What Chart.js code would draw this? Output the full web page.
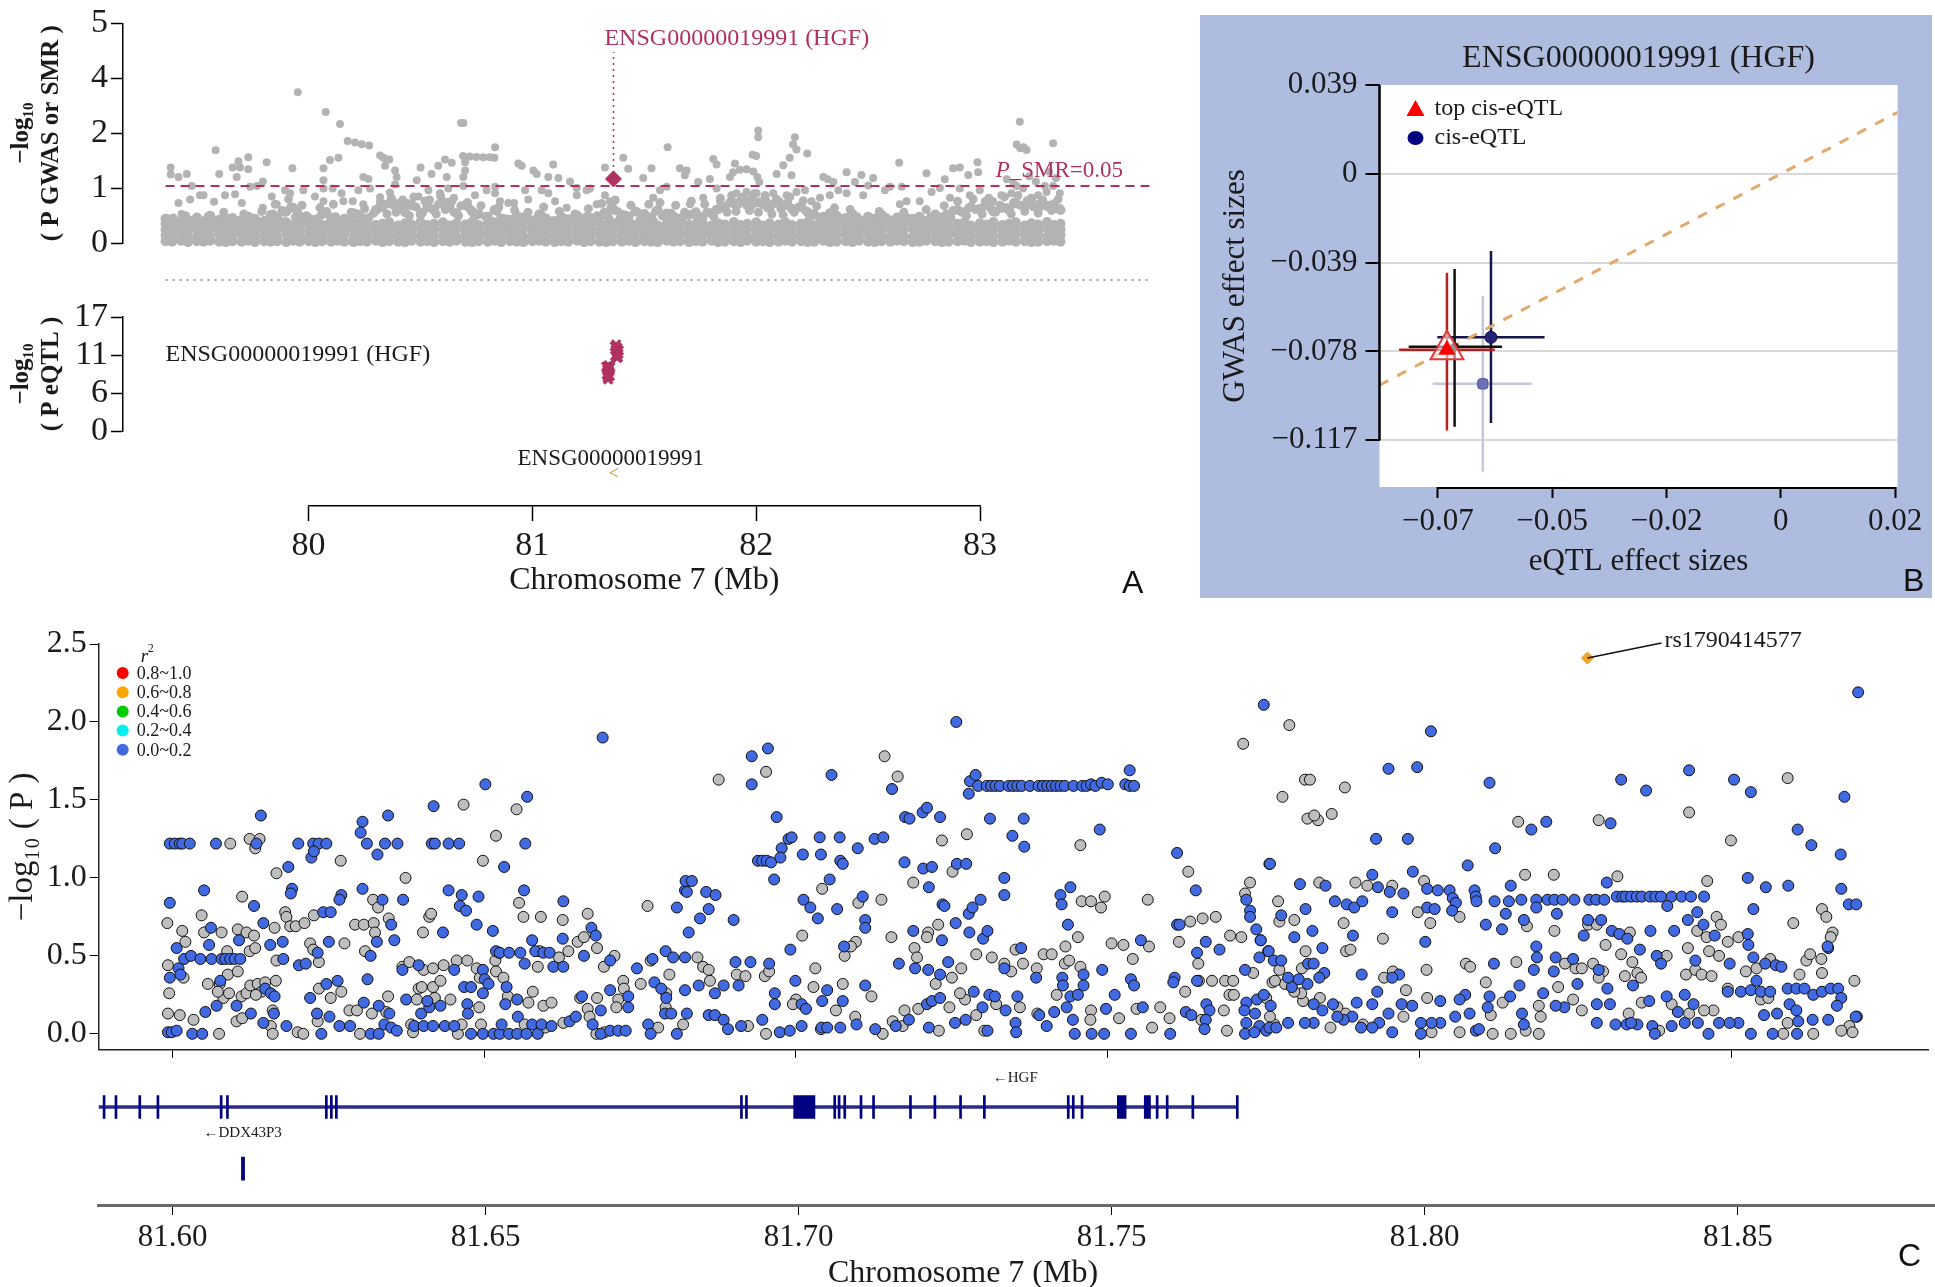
<!DOCTYPE html>
<html>
<head>
<meta charset="utf-8">
<title>SMR locus plot - HGF</title>
<script src="https://cdn.jsdelivr.net/npm/chart.js@4.4.1/dist/chart.umd.min.js"></script>
<style>
  html, body { margin: 0; padding: 0; background: #fff; }
  #page { position: relative; width: 1935px; height: 1287px; overflow: hidden; font-family: 'Liberation Serif', serif; }
  canvas { position: absolute; }
  .tag { position: absolute; font-family: 'Liberation Sans', Arial, sans-serif; font-size: 32px; line-height: 36px; color: #111; }
  #bgB { position: absolute; left: 1200px; top: 15px; width: 732px; height: 583px; background: #aebcdf; }
  #titleC { position: absolute; left: 763px; top: 1253px; width: 400px; text-align: center; font-size: 32px; line-height: 36px; color: #1a1a1a; }
</style>
</head>
<body>
<div id="page">
  <div id="bgB"></div>
  <canvas id="chartA1" width="1160" height="300" style="left:0;top:0"></canvas>
  <canvas id="chartA2" width="1160" height="200" style="left:0;top:290px"></canvas>
  <canvas id="chartA3" width="1160" height="160" style="left:0;top:440px"></canvas>
  <canvas id="chartB" width="732" height="583" style="left:1200px;top:15px"></canvas>
  <canvas id="chartC1" width="1935" height="452" style="left:0;top:620px"></canvas>
  <canvas id="chartC2" width="1935" height="227" style="left:0;top:1060px"></canvas>
  <div class="tag" style="left:1122px;top:564px">A</div>
  <div class="tag" style="left:1903px;top:562px">B</div>
  <div class="tag" style="left:1898px;top:1237px">C</div>
  <div id="titleC">Chromosome 7 (Mb)</div>
</div>
<script>
// ---------- panel A : SMR locus ----------
var gwasTickVals = [0, 1.25, 2.5, 3.75, 5];
var gwasTickLabels = ['0', '1', '2', '4', '5'];
var eqtlTickVals = [0, 17 / 3, 34 / 3, 17];
var eqtlTickLabels = ['0', '6', '11', '17'];
var smrThreshold = 1.30;          // -log10(0.05)
var probeName = 'ENSG00000019991 (HGF)';
var probePos = 81.362;
var probeSmr = 1.46;
var probeLabelY = 4.35;
var geneName = 'ENSG00000019991';
var geneSpan = [81.328, 81.400];

// dense GWAS cloud, one value per row per column
var bandPos = [
  79.36,79.39,79.43,79.46,79.50,79.53,79.56,79.60,79.63,79.66,
  79.70,79.73,79.76,79.80,79.83,79.86,79.90,79.93,79.96,80.00,
  80.03,80.06,80.10,80.13,80.16,80.20,80.23,80.26,80.30,80.33,
  80.36,80.40,80.43,80.46,80.50,80.53,80.56,80.60,80.63,80.66,
  80.70,80.73,80.76,80.80,80.83,80.86,80.90,80.93,80.96,81.00,
  81.03,81.06,81.10,81.13,81.16,81.20,81.23,81.26,81.30,81.33,
  81.36,81.40,81.43,81.46,81.50,81.53,81.56,81.60,81.63,81.66,
  81.70,81.73,81.76,81.80,81.83,81.86,81.90,81.93,81.96,82.00,
  82.03,82.06,82.10,82.13,82.16,82.20,82.23,82.26,82.30,82.33,
  82.36,82.40,82.43,82.46,82.50,82.53,82.56,82.60,82.63,82.66,
  82.70,82.73,82.76,82.80,82.83,82.86,82.90,82.93,82.96,83.00,
  83.03,83.06,83.10,83.13,83.16,83.20,83.23,83.26,83.30,83.33,
  83.36];
var bandLow = [
  .04,.03,.05,.02,.04,.03,.05,.03,.02,.04, .03,.05,.02,.04,.03,.04,.02,.05,.03,.04,
  .02,.04,.03,.05,.03,.02,.04,.03,.05,.02, .04,.03,.02,.05,.03,.04,.02,.04,.03,.05,
  .03,.02,.04,.03,.05,.02,.04,.03,.02,.04, .05,.03,.02,.04,.03,.05,.02,.04,.03,.02,
  .04,.03,.05,.02,.04,.03,.02,.05,.03,.04, .02,.04,.03,.05,.02,.03,.04,.02,.05,.03,
  .04,.02,.03,.05,.03,.04,.02,.03,.05,.02, .03,.04,.02,.05,.03,.02,.04,.03,.05,.04,
  .02,.03,.05,.04,.02,.03,.04,.05,.02,.03, .04,.02,.03,.05,.03,.04,.02,.03,.04,.05, .03];
var bandMid = [
  .17,.15,.19,.16,.14,.18,.16,.20,.15,.17, .19,.16,.14,.18,.17,.15,.20,.16,.18,.14,
  .17,.19,.15,.16,.20,.14,.18,.17,.15,.19, .16,.18,.20,.15,.17,.19,.16,.18,.20,.15,
  .18,.16,.14,.19,.17,.15,.18,.20,.16,.14, .19,.17,.15,.18,.16,.20,.14,.17,.19,.15,
  .18,.16,.20,.15,.17,.19,.14,.18,.16,.20, .15,.17,.19,.16,.18,.14,.20,.17,.15,.19,
  .16,.18,.15,.20,.17,.14,.19,.16,.18,.15, .17,.19,.14,.16,.20,.18,.15,.17,.19,.16,
  .14,.18,.16,.19,.15,.17,.20,.16,.18,.14, .19,.16,.18,.15,.17,.20,.16,.19,.15,.17, .18];
var bandMid2 = [
  .30,.28,.32,.27,.31,.29,.33,.28,.30,.32, .27,.31,.29,.33,.28,.30,.32,.27,.31,.29,
  .33,.28,.30,.32,.27,.31,.29,.33,.28,.30, .32,.27,.31,.29,.33,.28,.30,.32,.27,.31,
  .29,.33,.28,.30,.32,.27,.31,.29,.33,.28, .30,.32,.27,.31,.29,.33,.28,.30,.32,.27,
  .31,.29,.33,.28,.30,.32,.27,.31,.29,.33, .28,.30,.32,.27,.31,.29,.33,.28,.30,.32,
  .27,.31,.29,.33,.28,.30,.32,.27,.31,.29, .33,.28,.30,.32,.27,.31,.29,.33,.28,.30,
  .32,.27,.31,.29,.33,.28,.30,.32,.27,.31, .29,.33,.28,.30,.32,.27,.31,.29,.33,.28, .30];
var bandMid3 = [
  .44,.41,.47,.40,.45,.42,.48,.41,.43,.46, .40,.45,.42,.48,.41,.44,.47,.40,.46,.43,
  .48,.41,.44,.47,.40,.45,.42,.48,.41,.44, .47,.40,.45,.42,.48,.41,.44,.47,.40,.45,
  .42,.48,.41,.44,.47,.40,.45,.42,.48,.41, .44,.47,.40,.45,.42,.48,.41,.44,.47,.40,
  .45,.42,.48,.41,.44,.47,.40,.45,.42,.48, .41,.44,.47,.40,.45,.42,.48,.41,.44,.47,
  .40,.45,.42,.48,.41,.44,.47,.40,.45,.42, .48,.41,.44,.47,.40,.45,.42,.48,.41,.44,
  .47,.40,.45,.42,.48,.41,.44,.47,.40,.45, .42,.48,.41,.44,.47,.40,.45,.42,.48,.41, .44];
var bandTop = [
  .55,.48,.52,.50,.58,.49,.62,.53,.50,.57, .52,.60,.55,.50,.64,.58,.72,.80,.61,.56,
  .53,.65,.58,.50,.55,.68,.60,.54,.75,.82, .90,.78,.70,.86,.65,.82,.75,.92,.80,.68,
  .86,.72,.66,.60,.75,.56,.53,.62,.58,.51, .65,.56,.50,.59,.54,.62,.49,.57,.53,.68,
  .78,.64,.60,.72,.66,.58,.75,.67,.61,.56, .64,.70,.59,.68,.77,.82,.90,.95,.86,.92,
  .88,.80,.94,.86,.78,.82,.70,.65,.60,.68, .62,.57,.66,.53,.60,.56,.64,.51,.58,.62,
  .55,.60,.50,.65,.58,.62,.75,.70,.82,.78, .86,.72,.80,.75,.90,.82,.95,.78,.84,.88, .75];
var gwasUpper = [
  [79.37,.55],[79.41,.48],[79.45,.62],[79.52,.50],[79.58,.47],[79.64,.56],[79.69,.52],[79.74,.58],[79.78,.48],[79.84,.66],
  [79.88,.74],[79.92,.82],[79.95,.70],[79.99,.62],[80.04,.55],[80.08,.72],[80.12,.60],[80.18,.52],[80.22,.66],[80.27,.58],
  [80.31,.78],[80.34,.88],[80.38,.85],[80.41,.76],[80.44,.90],[80.48,.82],[80.52,.95],[80.55,.78],[80.58,.88],[80.62,.92],
  [80.65,.70],[80.68,.85],[80.72,.78],[80.75,.66],[80.79,.60],[80.84,.72],[80.88,.55],[80.94,.60],[80.99,.52],[81.04,.64],
  [81.08,.50],[81.14,.56],[81.18,.48],[81.24,.60],[81.28,.52],[81.32,.70],[81.35,.80],[81.38,.72],[81.42,.62],[81.47,.70],
  [81.51,.60],[81.55,.72],[81.58,.62],[81.62,.68],[81.67,.55],[81.72,.66],[81.75,.58],[81.78,.70],[81.82,.76],[81.85,.84],
  [81.88,.92],[81.92,.88],[81.95,.96],[81.98,.86],[82.02,.94],[82.05,.80],[82.08,.90],[82.11,.78],[82.14,.92],[82.19,.82],
  [82.22,.74],[82.25,.66],[82.28,.58],[82.34,.62],[82.38,.55],[82.45,.60],[82.52,.52],[82.58,.58],[82.62,.50],[82.68,.56],
  [82.74,.52],[82.78,.60],[82.85,.66],[82.88,.74],[82.92,.70],[82.95,.80],[82.98,.76],[83.02,.84],[83.05,.78],[83.09,.86],
  [83.12,.80],[83.15,.92],[83.18,.86],[83.21,.96],[83.24,.82],[83.27,.90],[83.31,.86],[83.35,.78],
  [79.38,.45],[79.42,.38],[79.47,.52],[79.51,.41],[79.55,.60],[79.59,.44],[79.62,.70],[79.67,.46],[79.71,.66],[79.75,.42],
  [79.79,.72],[79.82,.55],[79.85,.88],[79.89,.48],[79.91,1.0],[79.94,.58],[79.97,.86],[80.01,.50],[80.05,.80],[80.09,.45],
  [80.11,.88],[80.15,.50],[80.19,.70],[80.21,.45],[80.25,.78],[80.29,.68],[80.32,.92],[80.35,.66],[80.37,1.02],[80.39,.70],
  [80.42,.98],[80.45,.62],[80.47,1.05],[80.51,.70],[80.54,.98],[80.57,.66],[80.59,1.06],[80.61,.76],[80.64,.95],[80.67,.62],
  [80.71,.92],[80.74,.58],[80.77,.85],[80.81,.50],[80.85,.82],[80.89,.45],[80.92,.75],[80.95,.48],[80.98,.70],[81.02,.55],
  [81.05,.82],[81.09,.42],[81.12,.72],[81.15,.46],[81.19,.66],[81.22,.44],[81.25,.78],[81.29,.62],[81.31,.90],[81.34,.58],
  [81.37,.98],[81.39,.55],[81.44,.86],[81.48,.52],[81.52,.88],[81.54,.50],[81.57,.92],[81.61,.52],[81.64,.86],[81.68,.70],
  [81.71,.95],[81.74,.55],[81.77,.88],[81.81,.60],[81.84,1.02],[81.87,.70],[81.89,1.08],[81.91,.72],[81.94,1.05],[81.97,.74],
  [81.99,1.12],[82.01,.70],[82.04,1.08],[82.07,.66],[82.09,1.0],[82.12,.64],[82.15,1.05],[82.17,.70],[82.21,.96],[82.24,.58],
  [82.27,.84],[82.31,.55],[82.35,.80],[82.39,.50],[82.42,.76],[82.48,.48],[82.55,.72],[82.61,.45],[82.66,.70],[82.71,.48],
  [82.76,.76],[82.81,.50],[82.84,.85],[82.87,.58],[82.90,.95],[82.94,.62],[82.97,1.0],[83.01,.66],[83.04,1.02],[83.07,.70],
  [83.11,1.05],[83.14,.66],[83.17,1.08],[83.20,.72],[83.23,1.02],[83.26,.68],[83.28,.98],[83.32,.74],[83.35,1.0]];
var gwasSparse = [
  [79.951,3.43],[80.076,2.98],[80.140,2.71],[80.174,2.32],[80.207,2.29],[80.237,2.25],[80.270,2.22],[80.681,2.73],[80.691,2.73],
  [79.584,2.11],[80.833,2.18],[80.69,1.98],[80.72,1.97],[80.75,1.96],[80.78,1.95],[80.81,1.95],[80.83,1.94],[80.699,1.84],
  [80.699,1.65],[80.691,1.50],[80.319,1.99],[80.334,1.94],[80.349,1.90],[80.36,1.90],[80.341,1.76],[80.386,1.65],[80.393,1.50],
  [79.383,1.72],[79.383,1.56],[79.418,1.50],[79.455,1.57],[79.686,1.86],[79.693,1.72],[79.678,1.50],[79.66,1.72],[79.73,1.95],
  [79.73,1.68],[79.812,1.84],[79.927,1.70],[79.60,1.57],[80.066,1.70],[80.095,1.89],[80.133,1.94],[80.066,1.43],[80.244,1.50],
  [80.267,1.46],[80.50,1.72],[80.549,1.57],[80.579,1.76],[80.609,1.90],[80.639,1.83],[80.617,1.50],[80.937,1.81],[80.952,1.76],
  [81.004,1.65],[81.019,1.57],[81.071,1.50],[81.093,1.79],[81.116,1.48],[80.833,1.28],[81.324,1.72],[81.406,1.94],[81.168,1.40],
  [81.198,1.25],[81.257,1.24],
  [83.178,2.76],[83.164,2.24],[83.18,2.16],[83.195,2.18],[83.208,2.12],[83.327,2.27],[82.009,2.56],[82.009,2.41],[82.0,1.98],
  [81.984,2.01],[82.173,2.41],[82.165,2.24],[82.18,2.13],[82.15,1.94],[82.228,2.04],[81.604,2.18],[81.808,1.91],[81.823,1.79],
  [81.905,1.81],[81.897,1.61],[81.927,1.67],[81.957,1.68],[81.987,1.63],[82.005,1.50],[82.014,1.39],[81.883,1.50],[82.639,1.83],
  [82.761,1.59],[82.843,1.45],[82.88,1.70],[82.91,1.72],[82.948,1.55],[82.989,1.84],[82.992,1.61],[82.30,1.50],[82.32,1.45],
  [82.345,1.39],[82.404,1.61],[82.47,1.55],[82.523,1.48],[82.091,1.57],[82.121,1.77],[81.495,1.48],[81.532,1.70],[81.659,1.70],
  [81.689,1.65],[81.741,1.39],[83.12,1.45],[83.15,1.35],[83.22,1.52],[83.25,1.40],[83.29,1.30],[83.31,1.62],[83.34,1.48],
  [79.418,.91],[79.470,.99],[79.514,1.09],[79.53,1.09],[79.432,.66],[79.395,.58],[79.477,1.30],[79.577,.94],[79.626,1.09],
  [79.671,1.11],[79.701,.91],[79.738,1.28],[79.768,1.30],[79.795,1.40],[79.795,.80],[79.835,1.06],[79.857,.88],[79.894,1.20],
  [79.917,1.13],[79.894,.69],[79.976,1.20],[80.028,1.06],[80.066,1.24],[80.066,.95],[80.107,1.24],[80.147,1.13],[80.155,.95],
  [80.197,.95],[80.222,1.20],[80.244,.88],[80.274,1.24],[80.319,1.04],[80.363,1.15],[80.386,1.33],[80.393,.91],[80.423,.80],
  [80.483,1.43],[80.490,1.06],[80.535,1.20],[80.587,1.13],[80.624,1.24],[80.649,1.03],[80.691,1.30],[80.743,1.09],[80.795,1.20],
  [80.833,1.13],[80.855,.95],[80.892,.91],[80.918,.91],[80.967,1.20],[80.981,.99],[81.041,1.20],[81.071,1.13],[81.101,.95],
  [81.153,.80],[81.198,1.09],[81.242,1.20],[81.287,.88],[81.324,1.09],[81.346,.95],[81.369,.73],[81.413,.65],
  [81.428,1.69],[81.570,1.20],[81.540,1.03],[81.600,1.28],[81.681,1.54],[81.704,.88],[81.763,1.03],[81.793,1.46],[81.823,1.24],
  [81.838,.95],[81.912,1.13],[81.957,1.16],[81.979,1.03],[82.002,1.13],[82.046,.95],[82.076,1.13],[82.136,1.09],[82.158,1.54],
  [82.180,1.16],[82.218,1.20],[82.247,.95],[82.285,1.03],[82.329,1.09],[82.367,1.20],[82.404,1.13],[82.441,1.39],[82.478,1.09],
  [82.501,1.31],[82.575,1.20],[82.598,1.28],[82.650,1.28],[82.672,.95],[82.642,.88],[82.731,.95],[82.784,1.16],[82.821,1.25],
  [82.866,1.03],[82.910,1.24],[82.955,1.09],[82.999,1.20],[83.022,.95],[83.059,.95],[83.096,1.09],[83.141,1.13],[83.163,1.30],
  [83.193,1.24],[83.230,1.03],[83.260,1.09],[83.298,1.16],[83.327,1.30],[83.327,.88],[83.357,1.13],[83.354,.80]];
var eqtlSnps = [
  [81.368,12.6],[81.372,12.1],[81.376,11.8],[81.380,12.4],[81.384,11.5],[81.386,12.0],[81.370,11.2],[81.378,10.9],
  [81.382,11.0],[81.374,12.9],
  [81.330,9.6],[81.334,9.1],[81.338,8.6],[81.342,9.3],[81.346,8.2],[81.336,8.0],[81.340,9.8],[81.332,8.4],[81.344,8.9],
  [81.348,9.5],[81.338,7.7]];

// ---------- panel B : effect sizes ----------
var effTickY = [-0.117, -0.078, -0.039, 0, 0.039];
var effTickYLabels = ['\u22120.117', '\u22120.078', '\u22120.039', '0', '0.039'];
var effTickX = [-0.0717, -0.0478, -0.0239, 0, 0.0239];
var effTickXLabels = ['\u22120.07', '\u22120.05', '\u22120.02', '0', '0.02'];
var bEqtl = [-0.0698, -0.0682, -0.0606, -0.0623];
var bEqtlLow = [-0.0798, -0.0778, -0.0718, -0.0728];
var bEqtlHigh = [-0.0598, -0.0583, -0.0494, -0.0521];
var bGwas = [-0.0772, -0.0759, -0.0718, -0.0922];
var bGwasLow = [-0.1127, -0.1110, -0.1094, -0.1307];
var bGwasHigh = [-0.0434, -0.0418, -0.0339, -0.0536];
var bxy = 1.106;

// ---------- panel C : regional association ----------
var ldLabels = ['0.8~1.0', '0.6~0.8', '0.4~0.6', '0.2~0.4', '0.0~0.2'];
var ldColors = ['#ff0000', '#ffa500', '#00cd00', '#00eeee', '#4169e1'];
var rsSnp = { name: 'rs1790414577', pos: 81.8269, logp: 2.41 };
var blueSnps = [
  [81.5996,1.22],[81.6004,1.22],[81.6012,1.22],[81.6016,1.22],[81.6028,1.22],[81.6070,1.22],[81.6135,1.22],[81.6202,1.22],[81.6226,1.22],[81.6235,1.22],[81.6247,1.22],[81.6223,1.13],[81.6227,1.17],[81.6312,1.22],[81.6341,1.22],[81.6361,1.22],[81.6416,1.22],[81.6421,1.22],[81.6443,1.22],[81.6460,1.22],[81.6566,1.22],[81.6142,1.40],[81.6305,1.36],[81.6302,1.29],[81.6346,1.40],[81.6329,1.15],[81.6186,1.07],[81.6419,1.46],[81.6502,1.60],[81.6569,1.52],[81.6532,1.07],[81.6690,1.90],
  [81.5996,0.84],[81.6051,0.92],[81.6131,0.82],[81.6192,0.93],[81.6190,0.90],[81.6271,0.89],[81.6268,0.86],[81.6305,0.93],[81.6337,0.86],[81.6370,0.86],[81.6007,0.55],[81.6062,0.68],[81.6107,0.60],[81.6059,0.57],[81.6146,0.71],[81.6242,0.78],[81.6254,0.78],[81.6233,0.52],[81.6251,0.59],[81.6157,0.57],[81.6177,0.59],[81.6178,0.48],[81.6203,0.44],[81.6214,0.45],[81.6351,0.70],[81.6328,0.59],[81.6356,0.60],[81.6318,0.50],[81.6488,0.70],[81.6434,0.65],[81.6443,0.92],[81.6464,0.89],[81.6491,0.88],[81.6461,0.82],[81.6471,0.79],[81.6564,0.92],[81.6627,0.85],[81.6672,0.68],[81.6679,0.63],[81.6514,0.66],[81.6577,0.60],[81.6626,0.61],[81.6809,0.81],[81.6822,0.92],[81.6823,0.98],
  [81.6010,0.42],[81.5996,0.36],[81.6013,0.38],[81.6019,0.48],[81.6030,0.50],[81.6045,0.48],[81.6063,0.48],[81.6079,0.48],[81.6085,0.48],[81.6093,0.48],[81.6100,0.48],[81.6109,0.48],[81.6519,0.53],[81.6525,0.52],[81.6540,0.52],[81.6558,0.52],[81.6582,0.53],[81.6595,0.52],[81.6605,0.52],[81.6611,0.43],[81.6627,0.43],[81.6565,0.45],[81.6660,0.50],[81.6702,0.47],[81.6745,0.42],[81.6770,0.48],[81.6791,0.53],[81.6803,0.49],[81.6822,0.49],[81.6369,0.41],[81.6395,0.44],[81.6452,0.41],[81.6498,0.41],[81.6501,0.35],[81.6507,0.32],
  [81.5993,0.01],[81.5999,0.01],[81.6007,0.02],[81.6032,0.00],[81.6048,0.00],[81.6077,0.34],[81.6071,0.18],[81.6053,0.14],[81.6103,0.18],[81.6149,0.29],[81.6158,0.26],[81.6164,0.24],[81.6126,0.13],[81.6146,0.07],[81.6163,0.13],[81.6183,0.05],[81.6221,0.23],[81.6232,0.13],[81.6239,0.00],[81.6247,0.32],[81.6265,0.34],[81.6252,0.11],[81.6268,0.05],[81.6285,0.05],[81.6307,0.20],[81.6318,0.00],[81.6331,0.00],[81.6313,0.35],[81.6331,0.18],[81.6348,0.13],[81.6340,0.06],[81.6351,0.04],[81.6360,0.02],[81.6375,0.22],[81.6399,0.13],[81.6388,0.05],[81.6403,0.05],[81.6418,0.05],[81.6437,0.05],[81.6452,0.05],[81.6412,0.17],[81.6430,0.18],[81.6409,0.21],[81.6468,0.30],[81.6479,0.30],[81.6473,0.19],[81.6474,0.13],[81.6498,0.26],[81.6479,0.00],[81.6498,0.00],[81.6515,0.00],[81.6525,0.00],[81.6540,0.00],[81.6553,0.00],[81.6568,0.00],[81.6586,0.00],[81.6528,0.06],[81.6536,0.30],[81.6534,0.19],[81.6553,0.22],[81.6554,0.11],[81.6577,0.06],[81.6592,0.06],[81.6608,0.05],[81.6637,0.08],[81.6647,0.11],[81.6657,0.24],[81.6674,0.06],[81.6687,0.15],[81.6687,0.00],[81.6702,0.28],[81.6731,0.24],[81.6731,0.17],[81.6702,0.02],[81.6715,0.02],[81.6727,0.02],[81.6763,0.06],[81.6767,0.00],[81.6773,0.33],[81.6784,0.29],[81.6792,0.23],[81.6790,0.13],[81.6800,0.13],[81.6809,0.00],[81.6822,0.28],[81.6825,0.13],
  [81.6929,1.78],[81.6955,1.83],[81.6929,1.60],[81.7057,1.66],[81.7154,1.57],[81.7257,2.00],[81.7750,2.11],
  [81.7279,1.62],[81.7288,1.66],[81.7292,1.59],[81.7306,1.59],[81.7313,1.59],[81.7320,1.59],[81.7327,1.59],[81.7341,1.59],[81.7348,1.59],[81.7355,1.59],[81.7362,1.59],[81.7375,1.59],[81.7389,1.59],[81.7396,1.59],[81.7403,1.59],[81.7410,1.59],[81.7417,1.59],[81.7424,1.59],[81.7431,1.59],[81.7445,1.59],[81.7459,1.59],[81.7466,1.59],[81.7473,1.60],[81.7480,1.59],[81.7490,1.61],[81.7500,1.60],[81.7528,1.60],[81.7535,1.59],[81.7542,1.59],[81.7535,1.69],[81.7277,1.54],
  [81.6969,1.39],[81.7175,1.39],[81.7182,1.38],[81.7203,1.42],[81.7210,1.45],[81.7231,1.39],[81.7311,1.38],[81.7365,1.38],[81.7487,1.31],
  [81.6988,1.25],[81.6993,1.26],[81.6977,1.19],[81.7038,1.26],[81.7070,1.26],[81.7126,1.25],[81.7140,1.26],[81.7099,1.19],[81.7347,1.27],[81.7366,1.20],
  [81.6939,1.11],[81.6946,1.11],[81.6953,1.11],[81.6960,1.10],[81.6975,1.13],[81.6965,0.99],[81.7011,1.15],[81.7040,1.15],[81.7071,1.11],[81.7075,1.09],[81.7054,0.99],[81.7174,1.10],[81.7204,1.06],[81.7218,1.07],[81.7258,1.09],[81.7273,1.09],[81.7213,0.94],[81.7334,1.00],[81.7334,0.89],[81.7440,0.94],[81.7424,0.89],[81.7426,0.83],[81.7611,1.16],[81.7641,0.92],[81.7759,1.09],[81.7722,0.86],[81.7728,0.79],[81.7728,0.75],[81.7738,0.67],[81.7745,0.60],
  [81.6833,0.98],[81.6825,0.91],[81.6856,0.91],[81.6871,0.89],[81.6846,0.74],[81.6860,0.80],[81.6828,0.65],[81.6900,0.73],[81.7012,0.86],[81.7023,0.81],[81.7035,0.74],[81.7066,0.80],[81.7107,0.88],[81.7111,0.73],[81.7111,0.68],[81.7235,0.83],[81.7238,0.82],[81.7277,0.77],[81.7283,0.81],[81.7296,0.86],[81.7256,0.71],[81.7278,0.65],[81.7300,0.61],[81.7307,0.66],[81.7188,0.66],[81.7234,0.60],[81.7436,0.70],[81.7553,0.60],[81.7611,0.70],[81.7615,0.70],[81.7657,0.59],[81.7679,0.54],
  [81.6991,0.54],[81.7077,0.56],[81.7361,0.55],[81.7165,0.45],[81.7191,0.42],[81.7212,0.41],[81.7231,0.38],[81.7244,0.46],[81.6927,0.46],[81.6957,0.45],[81.6903,0.46],[81.6908,0.31],[81.6999,0.34],[81.7334,0.42],[81.7385,0.36],[81.7427,0.36],[81.7428,0.31],[81.7461,0.38],[81.7461,0.31],[81.7491,0.41],[81.7537,0.35],[81.7607,0.36],[81.7643,0.34],[81.7643,0.52],[81.7720,0.41],[81.7757,0.53],[81.7743,0.49],
  [81.6844,0.31],[81.6870,0.26],[81.6884,0.31],[81.6966,0.26],[81.6966,0.19],[81.7009,0.19],[81.7016,0.16],[81.7050,0.28],[81.7042,0.21],[81.7075,0.21],[81.7111,0.31],[81.7210,0.19],[81.7218,0.21],[81.7231,0.23],[81.7285,0.27],[81.7310,0.25],[81.7319,0.24],[81.7355,0.24],[81.7336,0.15],[81.7299,0.17],[81.7440,0.24],[81.7452,0.25],[81.7434,0.17],[81.7497,0.16],[81.7511,0.25],[81.7542,0.31],[81.7556,0.17],[81.7605,0.33],[81.7625,0.14],[81.7658,0.19],[81.7663,0.15],[81.7657,0.09],[81.7722,0.20],[81.7739,0.22],[81.7750,0.25],[81.7761,0.18],[81.7719,0.15],[81.7736,0.13],[81.7722,0.07],[81.7743,0.05],[81.7754,0.02],
  [81.6860,0.12],[81.6870,0.12],[81.6884,0.09],[81.6891,0.03],[81.6912,0.05],[81.6946,0.09],[81.6974,0.01],[81.6990,0.02],[81.7009,0.05],[81.7041,0.04],[81.7050,0.04],[81.7071,0.04],[81.7097,0.06],[81.7127,0.03],[81.7160,0.05],[81.7181,0.09],[81.7213,0.04],[81.7255,0.07],[81.7272,0.09],[81.7307,0.02],[81.7352,0.07],[81.7353,0.01],[81.7390,0.12],[81.7402,0.05],[81.7414,0.14],[81.7444,0.09],[81.7447,0.00],[81.7474,0.00],[81.7494,0.00],[81.7537,0.00],[81.7600,0.00],[81.7634,0.12],[81.7655,0.03],[81.7720,0.00],[81.7735,0.01],[81.7759,0.04],
  [81.8018,1.94],[81.7950,1.70],[81.7996,1.71],[81.8112,1.61],[81.8323,1.63],[81.8363,1.56],[81.8432,1.69],[81.8504,1.63],[81.8531,1.55],[81.8681,1.52],[81.8703,2.19],[81.8203,1.36],[81.8179,1.31],[81.8306,1.35],[81.7930,1.25],[81.7981,1.25],[81.8121,1.19],[81.8606,1.31],[81.8628,1.21],[81.8675,1.15],[81.7760,1.09],[81.8077,1.08],[81.7924,1.02],[81.7989,1.04],[81.7808,0.96],[81.7849,0.95],[81.7933,0.94],[81.7952,0.91],[81.7974,0.90],[81.8146,0.95],[81.8300,0.97],[81.8526,1.00],[81.8555,0.94],[81.8591,0.95],[81.8676,0.93],[81.8688,0.83],[81.8700,0.83],
  [81.8012,0.93],[81.8029,0.92],[81.8048,0.92],[81.8053,0.87],[81.8058,0.84],[81.8088,0.92],[81.8090,0.88],[81.8091,0.85],[81.8120,0.85],[81.8143,0.85],[81.8163,0.86],[81.8187,0.86],[81.8205,0.86],[81.8216,0.86],[81.8229,0.86],[81.8248,0.86],[81.8272,0.86],[81.8283,0.86],[81.8296,0.86],[81.8316,0.88],[81.8325,0.88],[81.8330,0.88],[81.8339,0.88],[81.8348,0.88],[81.8356,0.88],[81.8369,0.88],[81.8378,0.88],[81.8387,0.88],[81.8404,0.88],[81.8420,0.88],[81.8435,0.88],[81.8456,0.88],
  [81.7864,0.85],[81.7883,0.83],[81.7895,0.81],[81.7908,0.85],[81.7817,0.80],[81.7778,0.76],[81.7956,0.78],[81.8012,0.81],[81.8024,0.80],[81.8052,0.79],[81.8187,0.81],[81.8220,0.77],[81.8138,0.77],[81.8397,0.82],[81.8535,0.80],[81.8445,0.78],[81.8270,0.73],[81.8291,0.73],[81.8167,0.73],[81.8106,0.70],[81.8132,0.67],[81.7828,0.66],[81.7745,0.60],[81.7799,0.62],[81.7893,0.63],[81.7844,0.55],[81.8009,0.59],[81.8308,0.66],[81.8320,0.64],[81.8333,0.61],[81.8370,0.66],[81.8408,0.66],[81.8430,0.73],[81.8455,0.70],[81.8526,0.64],[81.8527,0.57],[81.8473,0.63],[81.8263,0.63],[81.8187,0.56],[81.8353,0.54],[81.8655,0.55],
  [81.7758,0.53],[81.7766,0.47],[81.7778,0.47],[81.7821,0.45],[81.7830,0.45],[81.7847,0.39],[81.7907,0.38],[81.7967,0.38],[81.7956,0.36],[81.8119,0.45],[81.8188,0.49],[81.8218,0.49],[81.8246,0.48],[81.8287,0.41],[81.8380,0.50],[81.8387,0.45],[81.8442,0.47],[81.8497,0.45],[81.8535,0.49],[81.8554,0.45],[81.8571,0.44],[81.8580,0.43],[81.8540,0.34],
  [81.8494,0.27],[81.8515,0.27],[81.8531,0.28],[81.8547,0.27],[81.8562,0.27],[81.8590,0.29],[81.8604,0.29],[81.8617,0.29],[81.8631,0.25],[81.8645,0.27],[81.8659,0.29],[81.8671,0.29],[81.8654,0.56],[81.8676,0.23],[81.8701,0.11],[81.8669,0.18],[81.8655,0.09],[81.8630,0.09],[81.8593,0.19],[81.8604,0.15],[81.8607,0.08],[81.8605,0.00],[81.8573,0.13],[81.8552,0.12],[81.8566,0.00],[81.8531,0.00],[81.8511,0.07],[81.8497,0.07],[81.8480,0.07],[81.8463,0.00],[81.8446,0.07],[81.8425,0.07],[81.8404,0.05],[81.8373,0.05],[81.8349,0.06],[81.8332,0.06],[81.8314,0.06],[81.8284,0.07],[81.8377,0.00],[81.8339,0.07],[81.8414,0.14],[81.8439,0.19],[81.8425,0.25],[81.8396,0.24],[81.8368,0.21],[81.8342,0.31],[81.8301,0.29],[81.8284,0.19],[81.8305,0.19],[81.8253,0.32],[81.8232,0.17],[81.8218,0.18],[81.8215,0.40],[81.8198,0.26],[81.8183,0.41],[81.8160,0.31],[81.8145,0.24],[81.8164,0.13],[81.8167,0.06],[81.8112,0.24],[81.8109,0.17],[81.8073,0.25],[81.8064,0.22],[81.8033,0.21],[81.8080,0.13],[81.8057,0.11],[81.8033,0.07],[81.8019,0.07],[81.8002,0.07],[81.8002,0.00],[81.7988,0.18],[81.7971,0.19],[81.7950,0.13],[81.7935,0.07],[81.7956,0.01],[81.7906,0.04],[81.7924,0.04],[81.7899,0.20],[81.7924,0.19],[81.7892,0.11],[81.7878,0.09],[81.7868,0.11],[81.7861,0.19],[81.7844,0.15],[81.7830,0.19],[81.7830,0.07],[81.7816,0.07],[81.7789,0.07],[81.7770,0.04],[81.7820,0.32],[81.7839,0.36],[81.7795,0.30],[81.7789,0.36],[81.7806,0.35],[81.7932,0.27],[81.8090,0.02],[81.8095,0.03],[81.8699,0.11]];
var graySnps = [
  [81.6093,1.22],[81.6124,1.25],[81.6140,1.25],[81.6133,1.19],[81.6270,1.11],[81.6167,1.03],[81.6374,1.00],[81.6467,1.47],[81.6552,1.44],[81.6519,1.27],[81.6498,1.11],[81.5992,0.71],[81.6112,0.88],[81.6322,0.86],[81.6330,0.81],[81.6047,0.76],[81.6016,0.66],[81.6021,0.59],[81.6051,0.65],[81.6079,0.65],[81.6105,0.67],[81.6119,0.65],[81.6131,0.63],[81.6164,0.68],[81.6181,0.78],[81.6183,0.75],[81.6189,0.69],[81.6198,0.69],[81.6212,0.71],[81.6227,0.76],[81.6221,0.58],[81.6226,0.54],[81.6276,0.58],[81.6167,0.47],[81.6235,0.46],[81.6293,0.70],[81.6307,0.70],[81.6323,0.71],[81.6325,0.65],[81.6347,0.74],[81.6309,0.53],[81.6402,0.65],[81.6412,0.75],[81.6415,0.77],[81.6556,0.84],[81.6563,0.75],[81.6591,0.75],[81.6626,0.73],[81.6666,0.77],[81.6681,0.55],[81.6650,0.59],[81.6660,0.62],[81.6762,0.82],
  [81.5993,0.44],[81.6018,0.36],[81.6088,0.53],[81.6124,0.53],[81.6133,0.55],[81.6589,0.53],[81.6620,0.49],[81.6586,0.43],[81.6518,0.47],[81.6524,0.52],[81.6635,0.53],[81.6709,0.50],[81.6692,0.43],[81.6767,0.47],[81.6797,0.38],[81.6369,0.43],[81.6380,0.46],[81.6403,0.41],[81.6418,0.42],[81.6435,0.44],[81.6456,0.47],[81.6473,0.47],[81.6488,0.42],[81.6519,0.40],[81.6493,0.36],[81.6531,0.36],
  [81.5995,0.26],[81.5993,0.13],[81.6012,0.12],[81.6034,0.09],[81.6075,0.00],[81.6057,0.32],[81.6076,0.32],[81.6082,0.23],[81.6073,0.27],[81.6089,0.38],[81.6105,0.40],[81.6091,0.26],[81.6111,0.24],[81.6119,0.26],[81.6125,0.31],[81.6137,0.32],[81.6149,0.33],[81.6166,0.34],[81.6143,0.27],[81.6134,0.25],[81.6103,0.08],[81.6112,0.10],[81.6158,0.05],[81.6161,0.00],[81.6161,0.15],[81.6201,0.01],[81.6210,0.00],[81.6233,0.08],[81.6235,0.29],[81.6254,0.23],[81.6271,0.27],[81.6284,0.15],[81.6296,0.15],[81.6301,0.00],[81.6320,0.13],[81.6346,0.24],[81.6343,0.14],[81.6395,0.29],[81.6400,0.30],[81.6383,0.06],[81.6392,0.22],[81.6418,0.30],[81.6430,0.34],[81.6446,0.22],[81.6421,0.23],[81.6386,0.01],[81.6458,0.00],[81.6492,0.17],[81.6495,0.06],[81.6464,0.06],[81.6538,0.24],[81.6571,0.20],[81.6578,0.27],[81.6595,0.18],[81.6608,0.20],[81.6565,0.06],[81.6598,0.04],[81.6627,0.07],[81.6666,0.16],[81.6654,0.23],[81.6681,0.23],[81.6669,0.11],[81.6680,0.00],[81.6715,0.22],[81.6723,0.34],[81.6724,0.29],[81.6712,0.17],[81.6693,0.01],[81.6751,0.32],[81.6779,0.04],[81.6792,0.26],[81.6791,0.17],[81.6819,0.06],
  [81.6876,1.63],[81.6952,1.68],[81.7142,1.78],[81.7163,1.65],[81.7717,1.86],[81.7274,1.28],[81.7234,1.24],[81.7456,1.21],[81.7251,1.04],[81.7629,1.04],[81.7042,0.93],[81.7188,0.97],[81.7137,0.86],[81.7100,0.84],[81.7458,0.85],[81.7473,0.85],[81.7495,0.88],[81.7489,0.81],[81.7564,0.86],[81.7728,0.97],[81.7720,0.90],[81.7010,0.63],[81.7096,0.59],[81.7088,0.56],[81.7078,0.50],[81.7153,0.62],[81.7212,0.65],[81.7210,0.62],[81.7228,0.70],[81.7190,0.55],[81.7194,0.49],[81.7289,0.51],[81.7314,0.49],[81.7352,0.54],[81.7364,0.45],[81.7397,0.51],[81.7410,0.51],[81.7432,0.56],[81.7452,0.62],[81.7506,0.58],[81.7525,0.57],[81.7566,0.56],[81.7540,0.48],[81.7614,0.59],[81.7632,0.72],[81.7652,0.74],[81.7673,0.75],[81.7696,0.63],[81.7714,0.62],
  [81.7386,0.42],[81.7431,0.45],[81.7438,0.47],[81.7456,0.43],[81.7334,0.45],[81.7345,0.40],[81.7250,0.36],[81.7265,0.42],[81.7624,0.27],[81.7645,0.45],[81.7646,0.34],[81.7667,0.34],[81.7688,0.34],[81.7701,0.34],[81.7733,0.39],[81.7695,0.25],[81.7702,0.25],[81.6842,0.49],[81.6851,0.43],[81.6860,0.41],[81.6905,0.38],[81.6919,0.37],[81.6950,0.37],[81.6957,0.40],[81.6862,0.34],[81.7028,0.30],[81.7031,0.42],[81.7000,0.22],[81.6995,0.19],[81.7064,0.15],[81.7121,0.24],[81.7075,0.32],[81.7174,0.15],[81.7155,0.08],[81.7171,0.05],[81.7196,0.16],[81.7224,0.32],[81.7246,0.17],[81.7271,0.22],[81.7263,0.26],[81.7289,0.12],[81.7302,0.02],[81.7321,0.19],[81.7359,0.17],[81.7387,0.13],[81.7418,0.25],[81.7473,0.15],[81.7472,0.09],[81.7518,0.10],[81.7546,0.16],[81.7571,0.04],[81.7584,0.17],[81.7599,0.10],[81.7650,0.09],[81.7686,0.15],[81.7691,0.02],[81.7767,0.06],[81.7139,0.00],[81.7229,0.02],[81.7040,0.03],[81.6952,0.00],[81.6923,0.05],[81.7095,0.11],
  [81.7791,1.98],[81.8590,1.64],[81.8432,1.42],[81.8499,1.24],[81.7780,1.52],[81.7816,1.63],[81.7824,1.63],[81.7880,1.58],[81.7820,1.38],[81.7837,1.37],[81.7859,1.41],[81.7831,1.40],[81.8158,1.36],[81.8287,1.37],[81.8169,1.02],[81.8215,1.02],[81.8317,1.01],[81.8461,0.98],[81.7839,0.97],[81.7897,0.97],[81.7916,0.95],[81.7956,0.95],[81.8007,0.98],[81.7773,0.85],[81.7775,0.72],[81.7799,0.73],[81.7878,0.71],[81.7997,0.78],[81.8017,0.71],[81.8064,0.75],[81.8172,0.69],[81.8216,0.66],[81.8270,0.70],[81.8284,0.70],[81.8337,0.65],[81.8445,0.66],[81.8476,0.75],[81.8483,0.70],[81.8599,0.71],[81.8645,0.80],[81.8652,0.75],[81.8662,0.65],[81.8659,0.62],[81.8460,0.62],[81.8511,0.62],[81.8494,0.59],[81.8430,0.55],[81.8464,0.53],[81.8480,0.50],[81.8298,0.57],[81.8323,0.51],[81.7941,0.61],[81.7817,0.53],[81.7882,0.53],[81.7889,0.54],
  [81.7811,0.42],[81.7775,0.41],[81.7764,0.33],[81.8011,0.41],[81.8074,0.45],[81.8081,0.43],[81.8106,0.33],[81.8155,0.46],[81.8233,0.45],[81.8250,0.42],[81.8260,0.42],[81.8278,0.45],[81.8294,0.40],[81.8329,0.37],[81.8341,0.46],[81.8349,0.39],[81.8355,0.36],[81.8384,0.49],[81.8396,0.50],[81.8427,0.38],[81.8442,0.41],[81.8452,0.38],[81.8468,0.37],[81.8523,0.40],[81.8540,0.42],[81.8562,0.48],[81.8609,0.38],[81.8620,0.47],[81.8626,0.51],[81.8644,0.48],[81.8645,0.39],[81.8697,0.34],[81.8689,0.05],[81.8676,0.02],[81.8694,0.01],[81.8631,0.00],[81.8590,0.07],[81.8583,0.00],[81.8547,0.22],[81.8559,0.23],[81.8494,0.29],[81.8471,0.15],[81.8456,0.15],[81.8432,0.13],[81.8404,0.19],[81.8384,0.02],[81.8356,0.20],[81.8335,0.13],[81.8287,0.36],[81.8246,0.22],[81.8260,0.15],[81.8222,0.30],[81.8191,0.18],[81.8194,0.11],[81.8191,0.00],[81.8170,0.02],[81.8146,0.00],[81.8117,0.00],[81.8114,0.12],[81.8133,0.20],[81.8064,0.01],[81.8019,0.01],[81.8012,0.23],[81.7978,0.28],[81.7974,0.11],[81.7957,0.40],[81.7943,0.36],[81.7909,0.06],[81.7857,0.04],[81.7881,0.13],[81.7868,0.17],[81.7840,0.23],[81.7813,0.21],[81.7810,0.26],[81.7799,0.27],[81.7784,0.32],[81.7768,0.34],[81.7754,0.23],[81.7760,0.11]];

// gene track (Mb)
var geneLabels = ['\u2190HGF', '\u2190DDX43P3'];
var geneLabelPos = [81.7346, 81.6112];
var geneRows = [3, 0.8];
var geneBodies = [[81.580, 81.7700]];
var hgfExons = [
  [81.5889,81.5891],[81.5908,81.5910],[81.5946,81.5948],[81.5975,81.5977],[81.6076,81.6078],[81.6086,81.6088],
  [81.6244,81.6246],[81.6252,81.6254],[81.6260,81.6262],[81.6907,81.6909],[81.6915,81.6917],[81.6992,81.7026],
  [81.7056,81.7058],[81.7063,81.7065],[81.7072,81.7074],[81.7098,81.7100],[81.7118,81.7120],[81.7177,81.7179],
  [81.7216,81.7218],[81.7257,81.7259],[81.7295,81.7297],[81.7429,81.7431],[81.7437,81.7439],[81.7451,81.7453],
  [81.7509,81.7523],[81.7552,81.7562],[81.7571,81.7573],[81.7587,81.7589],[81.7628,81.7630],[81.7699,81.7702]];
var ddxExons = [[81.6110, 81.6115]];

// ---------- shared style ----------
var serif = "'Liberation Serif', 'Times New Roman', serif";
var smrRed = '#b03060';
var gwasGray = '#b3b3b3';
var navy = '#000080';
Chart.defaults.font.family = serif;
Chart.defaults.color = '#1a1a1a';
Chart.defaults.animation = false;
Chart.defaults.plugins.legend.display = false;
Chart.defaults.plugins.tooltip.enabled = false;

function fixedTicks(vals) {
  return function (scale) { scale.ticks = vals.map(function (v) { return { value: v }; }); };
}
function pairs(list) {
  return list.map(function (p) { return { x: p[0], y: p[1] }; });
}

// ---------- chart A1 : GWAS / SMR ----------
var regionA = [79.17, 83.76];
var bandPoints = [];
bandPos.forEach(function (x, i) {
  bandPoints.push({ x: x, y: bandLow[i] }, { x: x, y: bandMid[i] }, { x: x, y: bandMid2[i] },
                  { x: x, y: bandMid3[i] }, { x: x, y: bandTop[i] });
});

var a1Notes = {
  id: 'a1Notes',
  afterDraw: function (chart) {
    var ctx = chart.ctx, ca = chart.chartArea, x = chart.scales.x, y = chart.scales.y;
    ctx.save();
    ctx.fillStyle = smrRed;
    ctx.textBaseline = 'middle';
    ctx.textAlign = 'left';
    ctx.font = '24px ' + serif;
    ctx.fillText(probeName, x.getPixelForValue(probePos) - 9, y.getPixelForValue(probeLabelY) - 13);
    var yThr = y.getPixelForValue(smrThreshold);
    ctx.textAlign = 'right';
    ctx.font = '23px ' + serif;
    var rest = '_SMR=0.05';
    var wRest = ctx.measureText(rest).width;
    ctx.fillText(rest, ca.right - 27, yThr - 15);
    ctx.font = 'italic 23px ' + serif;
    ctx.fillText('P', ca.right - 27 - wRest, yThr - 15);
    // dotted separator between the two tracks
    ctx.strokeStyle = '#a0a0a0';
    ctx.lineWidth = 2;
    ctx.setLineDash([2, 5]);
    var ys = ca.bottom + 37;
    ctx.beginPath();
    ctx.moveTo(x.getPixelForValue(bandPos[0]), ys);
    ctx.lineTo(ca.right, ys);
    ctx.stroke();
    ctx.restore();
  }
};

new Chart(document.getElementById('chartA1'), {
  type: 'scatter',
  data: {
    datasets: [
      { data: [{ x: probePos, y: probeSmr }], pointStyle: 'rectRot', radius: 8, backgroundColor: smrRed, borderColor: smrRed, borderWidth: 1, order: 0 },
      { type: 'line', data: [{ x: bandPos[0], y: smrThreshold }, { x: regionA[1], y: smrThreshold }], borderColor: smrRed, borderWidth: 2, borderDash: [9, 6], pointRadius: 0, order: 1 },
      { type: 'line', data: [{ x: probePos, y: probeSmr }, { x: probePos, y: probeLabelY }], borderColor: smrRed, borderWidth: 1.5, borderDash: [2, 4], pointRadius: 0, order: 2 },
      { data: pairs(gwasSparse), radius: 4, backgroundColor: gwasGray, borderWidth: 0, order: 3, clip: false },
      { data: pairs(gwasUpper), radius: 4.5, backgroundColor: gwasGray, borderWidth: 0, order: 4, clip: false },
      { data: bandPoints, radius: 5, backgroundColor: gwasGray, borderWidth: 0, order: 5, clip: false }
    ]
  },
  options: {
    responsive: false,
    layout: { padding: { left: 0, top: 16, right: 10, bottom: 57 } },
    scales: {
      x: { type: 'linear', display: false, min: regionA[0], max: regionA[1] },
      y: {
        min: 0, max: 5,
        afterFit: function (s) { s.width = 123; },
        afterBuildTicks: fixedTicks(gwasTickVals),
        ticks: { autoSkip: false, callback: function (v, i) { return gwasTickLabels[i]; }, font: { size: 34 }, padding: 3, color: '#1a1a1a' },
        grid: { drawOnChartArea: false, tickLength: 12, tickColor: '#000', tickWidth: 1.5 },
        border: { color: '#000', width: 1.5 },
        title: { display: true, text: ['\u2212log\u2081\u2080', '( P GWAS or SMR )'], font: { size: 25, weight: 'bold', lineHeight: 1.2 }, padding: { top: 7, bottom: 0 }, color: '#1a1a1a' }
      }
    }
  },
  plugins: [a1Notes]
});

// ---------- chart A2 : eQTL ----------
var a2Notes = {
  id: 'a2Notes',
  afterDraw: function (chart) {
    var ctx = chart.ctx, x = chart.scales.x, y = chart.scales.y;
    ctx.save();
    ctx.fillStyle = '#1a1a1a';
    ctx.font = '24px ' + serif;
    ctx.textAlign = 'left';
    ctx.textBaseline = 'middle';
    ctx.fillText(probeName, x.getPixelForValue(bandPos[0]), y.getPixelForValue(eqtlTickVals[2]));
    ctx.restore();
  }
};

new Chart(document.getElementById('chartA2'), {
  type: 'scatter',
  data: {
    datasets: [
      { data: pairs(eqtlSnps), pointStyle: 'crossRot', radius: 6, borderWidth: 3, borderColor: smrRed, backgroundColor: smrRed }
    ]
  },
  options: {
    responsive: false,
    layout: { padding: { left: 0, top: 27, right: 10, bottom: 59 } },
    scales: {
      x: { type: 'linear', display: false, min: regionA[0], max: regionA[1] },
      y: {
        min: 0, max: 17,
        afterFit: function (s) { s.width = 123; },
        afterBuildTicks: fixedTicks(eqtlTickVals),
        ticks: { autoSkip: false, callback: function (v, i) { return eqtlTickLabels[i]; }, font: { size: 34 }, padding: 3, color: '#1a1a1a' },
        grid: { drawOnChartArea: false, tickLength: 12, tickColor: '#000', tickWidth: 1.5 },
        border: { color: '#000', width: 1.5 },
        title: { display: true, text: ['\u2212log\u2081\u2080', '( P eQTL )'], font: { size: 25, weight: 'bold', lineHeight: 1.2 }, padding: { top: 7, bottom: 0 }, color: '#1a1a1a' }
      }
    }
  },
  plugins: [a2Notes]
});

// ---------- chart A3 : gene + axis ----------
var a3Notes = {
  id: 'a3Notes',
  afterDraw: function (chart) {
    var ctx = chart.ctx, ca = chart.chartArea, x = chart.scales.x;
    var cx = x.getPixelForValue((geneSpan[0] + geneSpan[1]) / 2);
    ctx.save();
    ctx.textAlign = 'center';
    ctx.textBaseline = 'middle';
    ctx.fillStyle = '#1a1a1a';
    ctx.font = '23px ' + serif;
    ctx.fillText(geneName, cx - 3, ca.top + 14);
    ctx.fillStyle = '#c8961e';
    ctx.font = '18px ' + serif;
    ctx.fillText('<', cx, ca.top + 29);
    ctx.restore();
  }
};

new Chart(document.getElementById('chartA3'), {
  type: 'scatter',
  data: { datasets: [{ data: [] }] },
  options: {
    responsive: false,
    layout: { padding: { left: 308.5, top: 5, right: 180, bottom: 0 } },
    scales: {
      x: {
        type: 'linear', min: 80, max: 83,
        afterFit: function (s) { s.height = 94; },
        ticks: { stepSize: 1, font: { size: 34 }, padding: 5, color: '#1a1a1a' },
        grid: { drawOnChartArea: false, tickLength: 15, tickColor: '#000', tickWidth: 1.5 },
        border: { color: '#000', width: 1.5 },
        title: { display: true, text: 'Chromosome 7 (Mb)', font: { size: 32 }, padding: { top: 0, bottom: 0 }, color: '#1a1a1a' }
      },
      y: { display: false, min: 0, max: 1 }
    }
  },
  plugins: [a3Notes]
});

// ---------- chart B : effect sizes ----------
var effX = [-0.0839, 0.0244];
var effY = [-0.1375, 0.039];
var bDecor = {
  id: 'bDecor',
  beforeDraw: function (chart) {
    var ctx = chart.ctx, ca = chart.chartArea;
    ctx.save();
    ctx.fillStyle = '#ffffff';
    ctx.fillRect(ca.left, ca.top, ca.right - ca.left, ca.bottom - ca.top);
    ctx.restore();
  },
  afterDraw: function (chart) {
    var ctx = chart.ctx, ca = chart.chartArea, x = chart.scales.x, y = chart.scales.y;
    ctx.save();
    ctx.strokeStyle = '#000';
    ctx.lineWidth = 2.5;
    ctx.beginPath();
    ctx.moveTo(ca.left, y.getPixelForValue(effTickY[4]));
    ctx.lineTo(ca.left, y.getPixelForValue(effTickY[0]));
    ctx.stroke();
    ctx.lineWidth = 2;
    ctx.beginPath();
    ctx.moveTo(x.getPixelForValue(effTickX[0]), ca.bottom + 1);
    ctx.lineTo(x.getPixelForValue(effTickX[4]), ca.bottom + 1);
    ctx.stroke();
    // legend
    var lx = ca.left + 36, ly = ca.top + 24;
    ctx.fillStyle = '#ff0000';
    ctx.beginPath();
    ctx.moveTo(lx, ly - 9); ctx.lineTo(lx + 9, ly + 7); ctx.lineTo(lx - 9, ly + 7); ctx.closePath();
    ctx.fill();
    ctx.fillStyle = navy;
    ctx.beginPath();
    ctx.ellipse(lx, ly + 29, 8, 7, 0, 0, Math.PI * 2);
    ctx.fill();
    ctx.fillStyle = '#1a1a1a';
    ctx.font = '24px ' + serif;
    ctx.textAlign = 'left';
    ctx.textBaseline = 'middle';
    ctx.fillText('top cis-eQTL', lx + 19, ly);
    ctx.fillText('cis-eQTL', lx + 19, ly + 29);
    ctx.restore();
  }
};

var effLineColors = ['#b22222', '#111111', '#16164a', '#c3c6de'];
var effDatasets = [];
bEqtl.forEach(function (bx, i) {
  effDatasets.push({ type: 'line', data: [{ x: bEqtlLow[i], y: bGwas[i] }, { x: bEqtlHigh[i], y: bGwas[i] }], borderColor: effLineColors[i], borderWidth: 2.5, pointRadius: 0, order: 10 + i });
  effDatasets.push({ type: 'line', data: [{ x: bx, y: bGwasLow[i] }, { x: bx, y: bGwasHigh[i] }], borderColor: effLineColors[i], borderWidth: 2.5, pointRadius: 0, order: 10 + i });
});
effDatasets.push({ type: 'line', data: [{ x: effX[0], y: bxy * effX[0] }, { x: effX[1], y: bxy * effX[1] }], borderColor: '#e3a86c', borderWidth: 3, borderDash: [10, 10], pointRadius: 0, order: 8 });
effDatasets.push({ data: [{ x: bEqtl[1], y: bGwas[1] }], radius: 4, backgroundColor: '#111', borderWidth: 0, order: 5 });
effDatasets.push({ data: [{ x: bEqtl[2], y: bGwas[2] }], radius: 6, backgroundColor: '#23237a', borderColor: '#10103a', borderWidth: 1, order: 4 });
effDatasets.push({ data: [{ x: bEqtl[3], y: bGwas[3] }], pointStyle: 'rectRounded', radius: 6, backgroundColor: '#6e72b6', borderColor: '#4a4e96', borderWidth: 1, order: 3 });
effDatasets.push({ data: [{ x: bEqtl[0], y: bGwas[0] }], pointStyle: 'triangle', radius: 19, backgroundColor: 'rgba(255,255,255,0.55)', borderColor: '#e03a3a', borderWidth: 2, order: 2 });
effDatasets.push({ data: [{ x: bEqtl[0], y: bGwas[0] }], pointStyle: 'triangle', radius: 9, backgroundColor: '#ff0000', borderColor: '#ff0000', borderWidth: 1, order: 1 });

new Chart(document.getElementById('chartB'), {
  type: 'scatter',
  data: { datasets: effDatasets },
  options: {
    responsive: false,
    layout: { padding: { left: 0, top: 0, right: 34.4, bottom: 0 } },
    plugins: {
      title: { display: true, text: probeName, fullSize: false, font: { size: 32, weight: 'normal' }, color: '#1a1a1a', padding: { top: 24, bottom: 7.6 } }
    },
    scales: {
      x: {
        type: 'linear', min: effX[0], max: effX[1],
        afterFit: function (s) { s.height = 111; },
        afterBuildTicks: fixedTicks(effTickX),
        ticks: { autoSkip: false, callback: function (v, i) { return effTickXLabels[i]; }, font: { size: 31 }, padding: 5, color: '#1a1a1a' },
        grid: { drawOnChartArea: false, tickLength: 11, tickColor: '#000', tickWidth: 2 },
        border: { display: false },
        title: { display: true, text: 'eQTL effect sizes', font: { size: 31 }, padding: { top: 0, bottom: 18 }, color: '#1a1a1a' }
      },
      y: {
        min: effY[0], max: effY[1],
        afterFit: function (s) { s.width = 179.5; },
        afterBuildTicks: fixedTicks(effTickY),
        ticks: { autoSkip: false, callback: function (v, i) { return effTickYLabels[i]; }, font: { size: 31 }, padding: 8, color: '#1a1a1a' },
        grid: {
          color: function (c) { return c.tick && c.tick.value > 0.03 ? 'rgba(0,0,0,0)' : '#d8d8d8'; },
          lineWidth: 2, tickLength: 14, tickColor: '#000', tickWidth: 2
        },
        border: { display: false },
        title: { display: true, text: 'GWAS effect sizes', font: { size: 31 }, padding: { top: 17, bottom: 0 }, color: '#1a1a1a' }
      }
    }
  },
  plugins: [bDecor]
});

// ---------- chart C1 : regional association ----------
var regionC = [81.5882, 81.8815];
var regionCTicks = [81.60, 81.65, 81.70, 81.75, 81.80, 81.85];
var ldLegend = {
  id: 'ldLegend',
  afterDraw: function (chart) {
    var ctx = chart.ctx, ca = chart.chartArea;
    ctx.save();
    ctx.textAlign = 'left';
    ctx.textBaseline = 'middle';
    ctx.fillStyle = '#1a1a1a';
    ctx.font = 'italic 19px ' + serif;
    ctx.fillText('r', ca.left + 42, ca.top + 13);
    ctx.font = '12px ' + serif;
    ctx.fillText('2', ca.left + 49, ca.top + 5);
    ldLabels.forEach(function (lab, i) {
      var yy = ca.top + 29 + i * 19.2;
      ctx.beginPath();
      ctx.arc(ca.left + 24, yy, 6, 0, Math.PI * 2);
      ctx.fillStyle = ldColors[i];
      ctx.fill();
      ctx.fillStyle = '#1a1a1a';
      ctx.font = '18px ' + serif;
      ctx.fillText(lab, ca.left + 38, yy + 1);
    });
    // label for the lead SNP
    var pt = chart.getDatasetMeta(0).data[0];
    ctx.strokeStyle = '#111';
    ctx.lineWidth = 1.5;
    ctx.beginPath();
    ctx.moveTo(pt.x, pt.y);
    ctx.lineTo(pt.x + 74, pt.y - 15);
    ctx.stroke();
    ctx.font = '24px ' + serif;
    ctx.fillText(rsSnp.name, pt.x + 77, pt.y - 17);
    ctx.restore();
  }
};

new Chart(document.getElementById('chartC1'), {
  type: 'scatter',
  data: {
    datasets: [
      { data: [{ x: rsSnp.pos, y: rsSnp.logp }], pointStyle: 'rectRot', radius: 6, backgroundColor: '#f0a528', borderColor: '#e09a20', borderWidth: 1, order: 0 },
      { data: pairs(blueSnps), radius: 5.5, backgroundColor: '#4169e1', borderColor: '#111', borderWidth: 1, order: 1, clip: false },
      { data: pairs(graySnps), radius: 5.5, backgroundColor: '#bebebe', borderColor: '#111', borderWidth: 1, order: 2, clip: false }
    ]
  },
  options: {
    responsive: false,
    layout: { padding: { left: 0, top: 24, right: 0, bottom: 0 } },
    scales: {
      x: {
        type: 'linear', min: regionC[0], max: regionC[1],
        afterFit: function (s) { s.height = 19.3; },
        afterBuildTicks: fixedTicks(regionCTicks),
        ticks: { display: false },
        grid: { drawOnChartArea: false, tickLength: 8, tickColor: '#000', tickWidth: 1 },
        border: { color: '#222', width: 1.5 }
      },
      y: {
        min: -0.1025, max: 2.5,
        afterFit: function (s) { s.width = 98.7; },
        afterBuildTicks: fixedTicks([0, 0.5, 1, 1.5, 2, 2.5]),
        ticks: { autoSkip: false, callback: function (v) { return v.toFixed(1); }, font: { size: 32 }, padding: 3, color: '#1a1a1a' },
        grid: { drawOnChartArea: false, tickLength: 9, tickColor: '#000', tickWidth: 1 },
        border: { color: '#222', width: 1.5 },
        title: { display: true, text: '\u2212log\u2081\u2080 ( P )', font: { size: 33 }, padding: { top: 4, bottom: 0 }, color: '#1a1a1a' }
      }
    }
  },
  plugins: [ldLegend]
});

// ---------- chart C2 : genes + axis ----------
var geneNotes = {
  id: 'geneNotes',
  afterDraw: function (chart) {
    var ctx = chart.ctx, x = chart.scales.x, y = chart.scales.y;
    ctx.save();
    ctx.fillStyle = '#1a1a1a';
    ctx.font = '15px ' + serif;
    ctx.textAlign = 'center';
    ctx.textBaseline = 'middle';
    ctx.fillText(geneLabels[0], x.getPixelForValue(geneLabelPos[0]), y.getPixelForValue(geneRows[0]) - 29);
    ctx.fillText(geneLabels[1], x.getPixelForValue(geneLabelPos[1]), y.getPixelForValue(geneRows[1]) - 36);
    ctx.restore();
  }
};

function exonBars(list, row) {
  return list.map(function (e) { return { x: [e[0], e[1]], y: row }; });
}

new Chart(document.getElementById('chartC2'), {
  type: 'bar',
  data: {
    datasets: [
      { data: exonBars(geneBodies, geneRows[0]), backgroundColor: '#2b2b8c', barThickness: 3, grouped: false, order: 2 },
      { data: exonBars(hgfExons, geneRows[0]), backgroundColor: navy, barThickness: 23, minBarLength: 2, grouped: false, order: 1 },
      { data: exonBars(ddxExons, geneRows[1]), backgroundColor: navy, barThickness: 23, minBarLength: 3, grouped: false, order: 1 }
    ]
  },
  options: {
    responsive: false,
    indexAxis: 'y',
    layout: { padding: { left: 98.7, top: 5, right: 0, bottom: 0 } },
    scales: {
      x: {
        type: 'linear', min: regionC[0], max: regionC[1],
        afterFit: function (s) { s.height = 82; },
        afterBuildTicks: fixedTicks(regionCTicks),
        ticks: { autoSkip: false, callback: function (v) { return v.toFixed(2); }, font: { size: 31 }, padding: 4, color: '#1a1a1a' },
        grid: { drawOnChartArea: false, tickLength: 10, tickColor: '#000', tickWidth: 1 },
        border: { color: '#6a6a6a', width: 3 }
      },
      y: { type: 'linear', display: false, min: 0, max: 4 }
    }
  },
  plugins: [geneNotes]
});
</script>
</body>
</html>
